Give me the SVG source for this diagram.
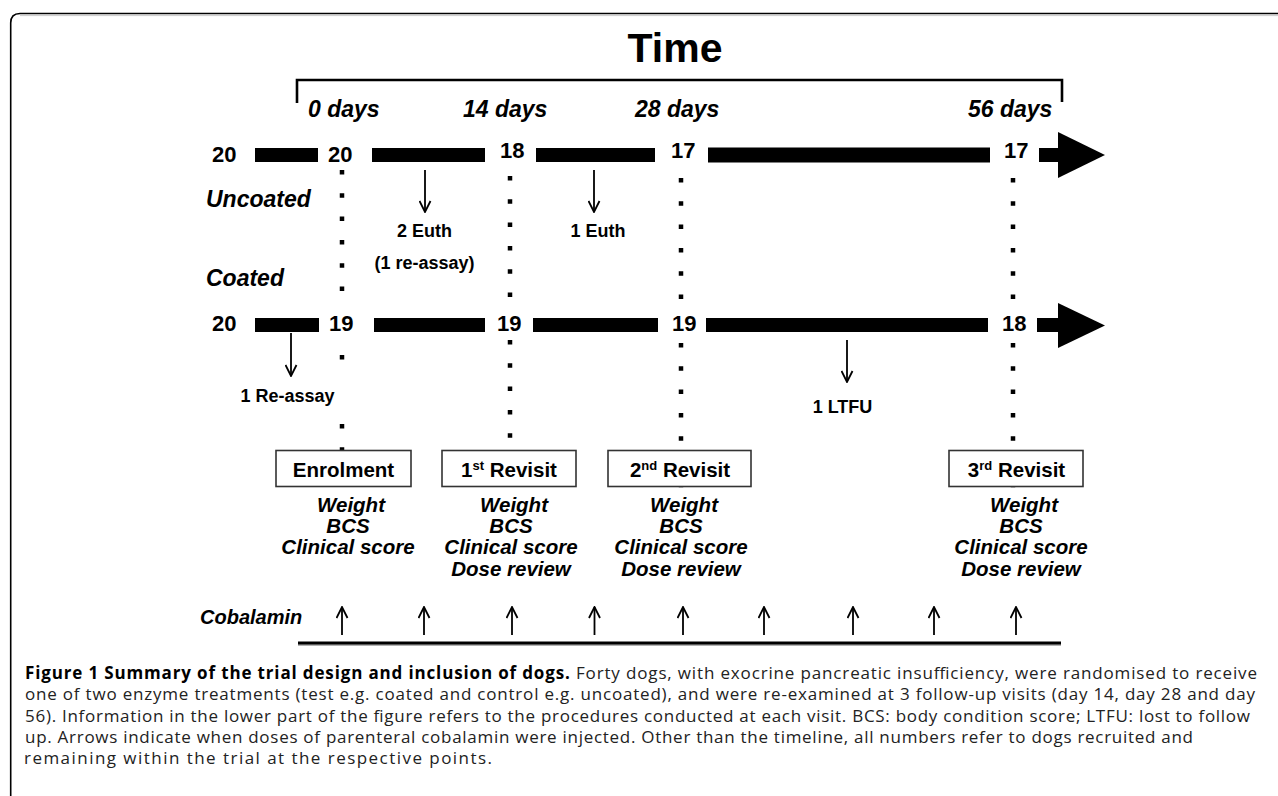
<svg xmlns="http://www.w3.org/2000/svg" width="1278" height="796" viewBox="0 0 1278 796">
<style>
.b{font-family:"Liberation Sans",Arial,sans-serif;font-weight:bold;fill:#000}
.bi{font-family:"Liberation Sans",Arial,sans-serif;font-weight:bold;font-style:italic;fill:#000}
.num{font-size:22px}
.day{font-size:23px}
.lbl{font-size:18px}
.list{font-size:18px;text-anchor:middle}
.box rect{fill:#fff;stroke:#333;stroke-width:1.6}
.box text{font-size:20.5px;text-anchor:middle}
.bar{fill:#000}
.dots{stroke:#000;stroke-width:4.5;stroke-dasharray:4.5 18.8;fill:none}
.arr{stroke:#000;stroke-width:1.8;fill:none;marker-end:url(#chev)}
.cap{font-family:"Open Sans","Noto Sans",sans-serif;font-size:17px;fill:#222}
</style>
<defs>
<marker id="chev" viewBox="0 0 13 13" refX="12" refY="6.5" markerWidth="13" markerHeight="13" markerUnits="userSpaceOnUse" orient="auto">
<path d="M1,1 L12,6.5 L1,12" fill="none" stroke="#000" stroke-width="1.8"/>
</marker>
</defs>
<rect width="1278" height="796" fill="#fff"/>
<g id="frame">
<path d="M10.7 796 L10.7 23 Q10.7 13.5 20 13.5 L1278 13.5" fill="none" stroke="#000" stroke-width="1.6"/>
<line x1="20" y1="15.6" x2="1278" y2="15.6" stroke="#ccc" stroke-width="1"/>
</g>
<g id="time-axis">
<text class="b" x="675" y="62" font-size="41" text-anchor="middle">Time</text>
<path d="M297 103 L297 80 L1062 80 L1062 102" fill="none" stroke="#000" stroke-width="2.6"/>
<text class="bi day" x="308" y="117">0 days</text>
<text class="bi day" x="463" y="117">14 days</text>
<text class="bi day" x="635" y="117">28 days</text>
<text class="bi day" x="968" y="117">56 days</text>
</g>
<g id="group-labels">
<text class="bi day" x="206" y="207">Uncoated</text>
<text class="bi day" x="206" y="286">Coated</text>
</g>
<g id="connectors">
<line class="dots" x1="342" y1="170" x2="342" y2="292"/>
<line class="dots" x1="342" y1="355" x2="342" y2="360"/>
<line class="dots" x1="342" y1="424" x2="342" y2="451"/>
<line class="dots" x1="510" y1="176" x2="510" y2="299"/>
<line class="dots" x1="510" y1="340" x2="510" y2="440"/>
<line class="dots" x1="681" y1="178" x2="681" y2="300"/>
<line class="dots" x1="681" y1="343" x2="681" y2="490"/>
<line class="dots" x1="1013" y1="178" x2="1013" y2="300"/>
<line class="dots" x1="1013" y1="343" x2="1013" y2="490"/>
<line class="arr" x1="425" y1="170" x2="425" y2="212"/>
<line class="arr" x1="594" y1="170" x2="594" y2="212"/>
<line class="arr" x1="291" y1="333" x2="291" y2="376"/>
<line class="arr" x1="847" y1="340" x2="847" y2="382"/>
</g>
<g id="uncoated-row">
<text class="b num" x="212" y="162">20</text>
<rect class="bar" x="255" y="148" width="63" height="14"/>
<text class="b num" x="328" y="162">20</text>
<rect class="bar" x="372" y="148" width="113" height="14"/>
<text class="b num" x="500" y="158">18</text>
<rect class="bar" x="536" y="148" width="119" height="14"/>
<text class="b num" x="671" y="158">17</text>
<rect class="bar" x="708" y="147.5" width="282" height="15"/>
<text class="b num" x="1004" y="158">17</text>
<rect class="bar" x="1039" y="148" width="21" height="14"/>
<polygon class="bar" points="1058,132 1105,155 1058,178"/>
</g>
<g id="coated-row">
<text class="b num" x="212" y="331">20</text>
<rect class="bar" x="255" y="318" width="64" height="14"/>
<text class="b num" x="329" y="331">19</text>
<rect class="bar" x="374" y="318" width="111" height="14"/>
<text class="b num" x="497" y="331">19</text>
<rect class="bar" x="533" y="318" width="125" height="14"/>
<text class="b num" x="672" y="331">19</text>
<rect class="bar" x="706" y="318" width="282" height="14"/>
<text class="b num" x="1002" y="331">18</text>
<rect class="bar" x="1037" y="318" width="23" height="14"/>
<polygon class="bar" points="1058,303 1105,325.5 1058,348"/>
</g>
<g id="events">
<text class="b lbl" x="424.5" y="237" text-anchor="middle">2 Euth</text>
<text class="b lbl" x="424.5" y="269" text-anchor="middle">(1 re-assay)</text>
<text class="b lbl" x="598" y="237" text-anchor="middle">1 Euth</text>
<text class="b lbl" x="287.5" y="402" text-anchor="middle">1 Re-assay</text>
<text class="b lbl" x="842.5" y="413" text-anchor="middle">1 LTFU</text>
</g>
<g id="enrolment" class="box">
<rect x="276" y="450.5" width="135" height="36"/>
<text class="b" x="343.5" y="477">Enrolment</text>
<text class="bi list" x="351" y="512">Weight</text>
<text class="bi list" x="348" y="533">BCS</text>
<text class="bi list" x="348" y="554">Clinical score</text>
</g>
<g id="revisit-1" class="box">
<rect x="442" y="450.5" width="134" height="36"/>
<text class="b" x="509" y="477">1<tspan font-size="13" dy="-7">st</tspan><tspan dy="7"> Revisit</tspan></text>
<text class="bi list" x="514" y="512">Weight</text>
<text class="bi list" x="511" y="533">BCS</text>
<text class="bi list" x="511" y="554">Clinical score</text>
<text class="bi list" x="511" y="576">Dose review</text>
</g>
<g id="revisit-2" class="box">
<rect x="608" y="450.5" width="143" height="36"/>
<text class="b" x="680" y="477">2<tspan font-size="13" dy="-7">nd</tspan><tspan dy="7"> Revisit</tspan></text>
<text class="bi list" x="684" y="512">Weight</text>
<text class="bi list" x="681" y="533">BCS</text>
<text class="bi list" x="681" y="554">Clinical score</text>
<text class="bi list" x="681" y="576">Dose review</text>
</g>
<g id="revisit-3" class="box">
<rect x="949" y="450.5" width="134" height="36"/>
<text class="b" x="1016.5" y="477">3<tspan font-size="13" dy="-7">rd</tspan><tspan dy="7"> Revisit</tspan></text>
<text class="bi list" x="1024" y="512">Weight</text>
<text class="bi list" x="1021" y="533">BCS</text>
<text class="bi list" x="1021" y="554">Clinical score</text>
<text class="bi list" x="1021" y="576">Dose review</text>
</g>
<g id="cobalamin">
<text class="bi" x="200" y="624" font-size="20">Cobalamin</text>
<line x1="298" y1="645" x2="1061" y2="645" stroke="#999" stroke-width="1.5"/>
<line x1="298" y1="643" x2="1061" y2="643" stroke="#000" stroke-width="3"/>
<line class="arr" x1="342" y1="635" x2="342" y2="607"/>
<line class="arr" x1="424" y1="635" x2="424" y2="607"/>
<line class="arr" x1="512" y1="635" x2="512" y2="607"/>
<line class="arr" x1="594.5" y1="635" x2="594.5" y2="607"/>
<line class="arr" x1="683" y1="635" x2="683" y2="607"/>
<line class="arr" x1="764" y1="635" x2="764" y2="607"/>
<line class="arr" x1="853" y1="635" x2="853" y2="607"/>
<line class="arr" x1="934" y1="635" x2="934" y2="607"/>
<line class="arr" x1="1016" y1="635" x2="1016" y2="607"/>
</g>
<g id="caption">
<text class="cap" x="25" y="679" textLength="1232" lengthAdjust="spacing"><tspan font-weight="bold" fill="#000">Figure 1 Summary of the trial design and inclusion of dogs.</tspan> Forty dogs, with exocrine pancreatic insufficiency, were randomised to receive</text>
<text class="cap" x="25" y="700" textLength="1230" lengthAdjust="spacing">one of two enzyme treatments (test e.g. coated and control e.g. uncoated), and were re-examined at 3 follow-up visits (day 14, day 28 and day</text>
<text class="cap" x="25" y="721.5" textLength="1225" lengthAdjust="spacing">56). Information in the lower part of the figure refers to the procedures conducted at each visit. BCS: body condition score; LTFU: lost to follow</text>
<text class="cap" x="25" y="743" textLength="1168" lengthAdjust="spacing">up. Arrows indicate when doses of parenteral cobalamin were injected. Other than the timeline, all numbers refer to dogs recruited and</text>
<text class="cap" x="24" y="764" textLength="468" lengthAdjust="spacing">remaining within the trial at the respective points.</text>
</g>
</svg>
